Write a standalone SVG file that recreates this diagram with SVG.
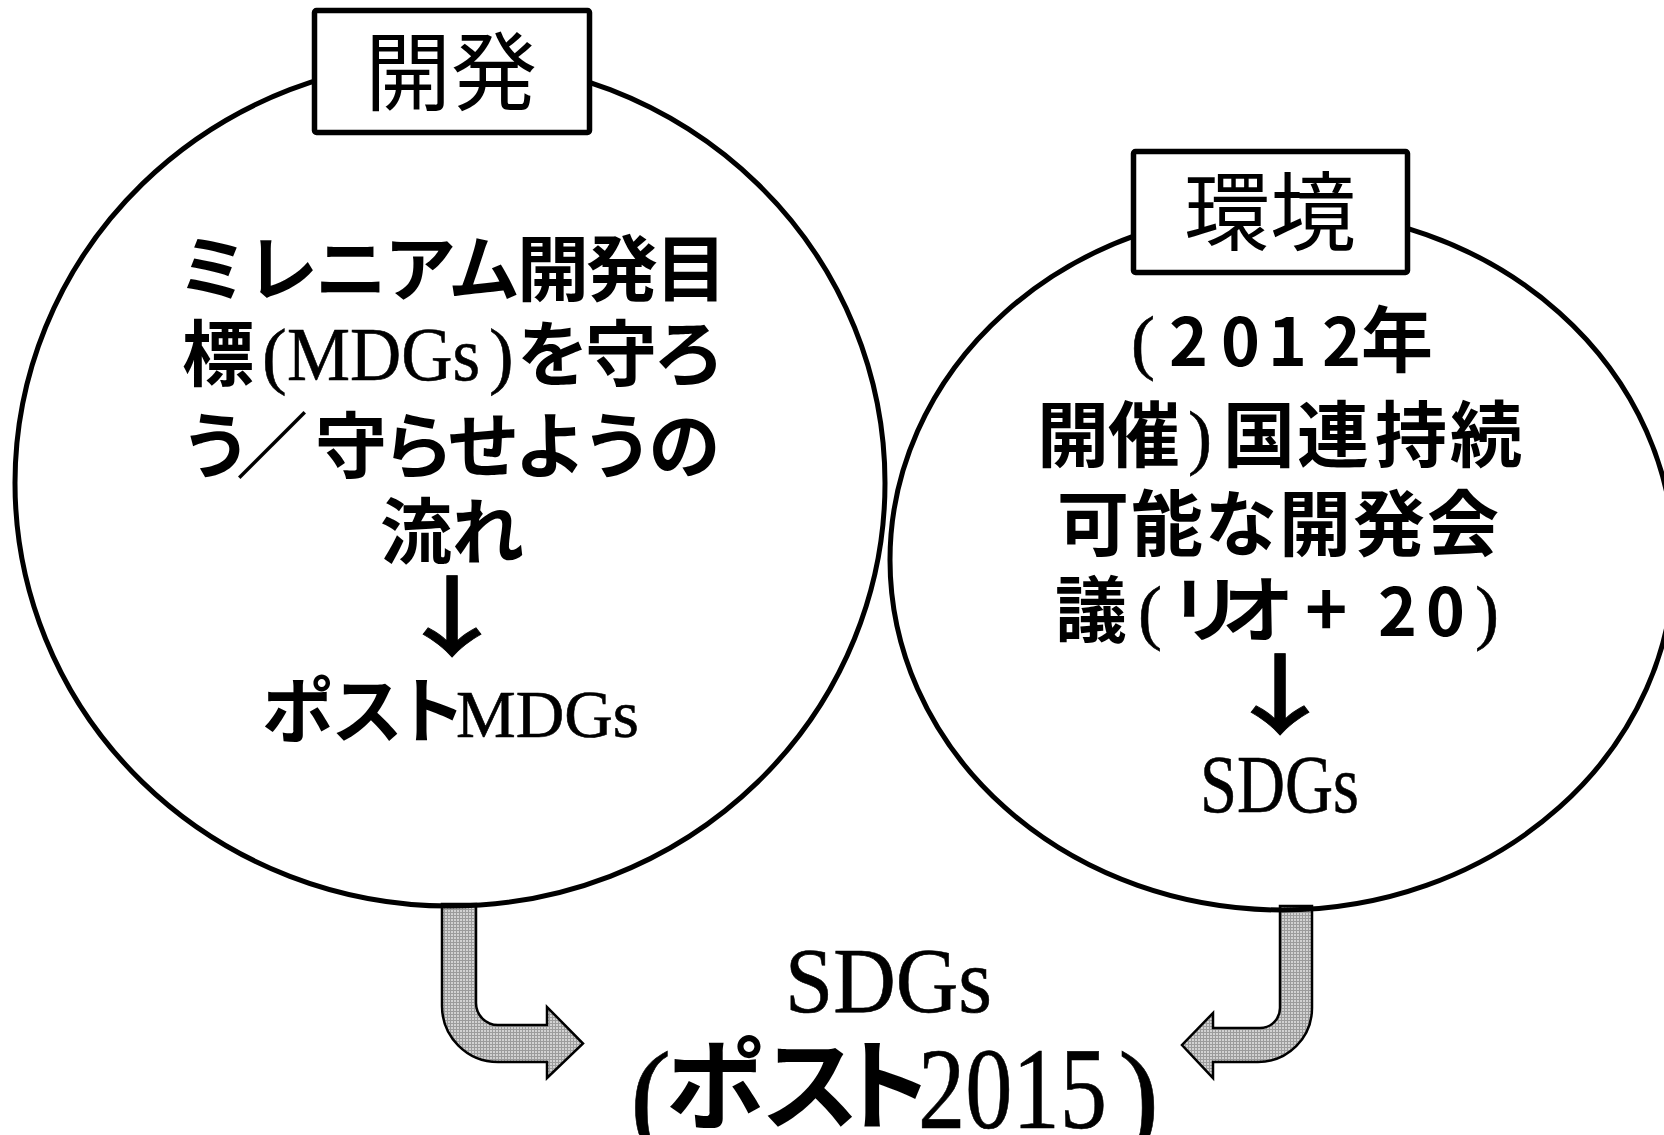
<svg xmlns="http://www.w3.org/2000/svg" width="1664" height="1135" viewBox="0 0 1664 1135">
<defs>
<style>
.jp{font-family:"Noto Sans CJK JP","Noto Sans CJK SC",sans-serif;font-weight:700;fill:#000}
.lat{font-family:"Liberation Serif","Times New Roman",serif;font-weight:400;fill:#000;stroke:#000;stroke-width:0.6}
.boxt{font-family:"Noto Sans CJK JP","Noto Sans CJK SC",sans-serif;font-weight:400;fill:#000}
.arrowch{font-family:"Noto Sans CJK JP","Noto Sans CJK SC",sans-serif;font-weight:500;fill:#000;stroke:#000;stroke-width:0.8}
.circle{fill:none;stroke:#000;stroke-width:5}
.label{fill:#fff;stroke:#000;stroke-width:5.5}
.bent{fill:url(#halftone);stroke:#000;stroke-width:2.5;stroke-linejoin:miter}
</style>
<pattern id="halftone" width="3" height="3" patternUnits="userSpaceOnUse">
<rect width="3" height="3" fill="#d2d2d2"/>
<rect width="3" height="1" fill="#9c9c9c"/>
<rect width="1" height="3" fill="#9c9c9c"/>
</pattern>
</defs>
<rect width="1664" height="1135" fill="#fff"/>

<g id="connectors">
<path class="bent" d="M442,904 L476,904 L476,1003 A22,22 0 0 0 498,1025 L547,1025 L547,1007 L583,1043.5 L547,1078 L547,1062 L498,1062 A56,56 0 0 1 442,1006 Z"/>
<path class="bent" d="M1280,906 L1280,1008 A20,20 0 0 1 1260,1028 L1213,1028 L1213,1013 L1182,1045 L1213,1078 L1213,1062 L1258,1062 A54,54 0 0 0 1312,1008 L1312,906 Z"/>
</g>

<g id="node-development">
<ellipse class="circle" cx="450" cy="483" rx="435" ry="423"/>
<rect class="label" x="314.5" y="10.5" width="275" height="122" rx="2"/>
<text class="boxt" x="451" y="104" font-size="86" text-anchor="middle">開発</text>
<text class="jp" x="177" y="295" font-size="72" letter-spacing="-3">ミレニアム開発目</text>
<text y="380"><tspan class="jp" x="182" font-size="72">標</tspan><tspan class="lat" x="262" font-size="74">(</tspan><tspan class="lat" x="287" font-size="76" textLength="193" lengthAdjust="spacingAndGlyphs">MDGs</tspan><tspan class="lat" x="489" font-size="74">)</tspan><tspan class="jp" x="517" font-size="72" letter-spacing="-4">を守ろ</tspan></text>
<text y="472"><tspan class="jp" x="180" font-size="72">う</tspan><tspan class="jp" x="236" font-size="72">／</tspan><tspan class="jp" x="315" font-size="72" letter-spacing="-5">守らせようの</tspan></text>
<text class="jp" x="452" y="558" font-size="72" text-anchor="middle">流れ</text>
<text class="arrowch" x="0" y="649" font-size="88" text-anchor="middle" transform="translate(452 0) scale(1.4 1)">↓</text>
<text y="737"><tspan class="jp" x="262 331 394" font-size="72">ポスト</tspan><tspan class="lat" x="456" font-size="68" textLength="183" lengthAdjust="spacingAndGlyphs">MDGs</tspan></text>
</g>

<g id="node-environment">
<ellipse class="circle" cx="1282" cy="560" rx="392" ry="350"/>
<rect class="label" x="1133.5" y="151.5" width="274" height="121" rx="2"/>
<text class="boxt" x="1270" y="244" font-size="86" text-anchor="middle">環境</text>
<text y="366"><tspan class="lat" x="1131" font-size="72">(</tspan><tspan class="jp" x="1169 1221 1268 1322" font-size="66">2012</tspan><tspan class="jp" x="1361" font-size="72">年</tspan></text>
<text y="461"><tspan class="jp" x="1037 1108" font-size="72">開催</tspan><tspan class="lat" x="1188" font-size="72">)</tspan><tspan class="jp" x="1223 1297 1375 1450" font-size="72">国連持続</tspan></text>
<text class="jp" x="1057" y="550" font-size="72" letter-spacing="2">可能な開発会</text>
<text y="636"><tspan class="jp" x="1055" font-size="72">議</tspan><tspan class="lat" x="1138" font-size="72">(</tspan><tspan class="jp" x="1170 1222" font-size="72">リオ</tspan><tspan class="jp" x="1305" font-size="72">+</tspan><tspan class="jp" x="1378 1426" font-size="66">20</tspan><tspan class="lat" x="1475" font-size="72">)</tspan></text>
<text class="arrowch" x="0" y="727" font-size="88" text-anchor="middle" transform="translate(1280 0) scale(1.4 1)">↓</text>
<text class="lat" x="1200" y="812" font-size="82" textLength="159" lengthAdjust="spacingAndGlyphs">SDGs</text>
</g>

<g id="node-sdgs">
<text class="lat" x="785" y="1012" font-size="94" textLength="207" lengthAdjust="spacingAndGlyphs">SDGs</text>
<text y="1124"><tspan class="lat" x="630" y="1138" font-size="124">(</tspan><tspan class="jp" x="666 760 834" y="1122" font-size="100">ポスト</tspan><tspan class="lat" x="918" y="1128" font-size="116" textLength="189" lengthAdjust="spacingAndGlyphs">2015</tspan><tspan class="lat" x="1118" y="1138" font-size="124">)</tspan></text>
</g>
</svg>
